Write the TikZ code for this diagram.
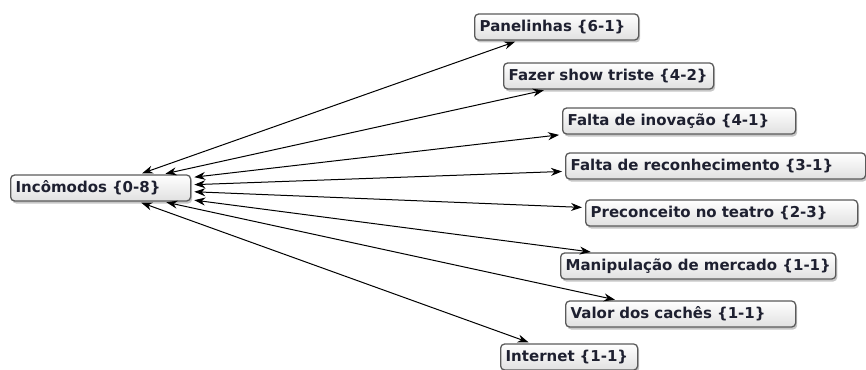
\documentclass[tikz,border=0pt]{standalone}
\usepackage{fontspec}
\setsansfont{DejaVu Sans}
\usetikzlibrary{arrows.meta,shadows}
\definecolor{boxline}{HTML}{5A5A5A}
\definecolor{boxtext}{HTML}{1E2030}
\tikzset{
  topic/.style={draw=boxline, line width=1.3pt, rounded corners=4pt,
    top color=white, bottom color=black!12, text=boxtext,
    font=\sffamily\bfseries\fontsize{15}{17}\selectfont,
    minimum height=26pt, inner xsep=5pt, anchor=west, align=left,
    drop shadow={shadow xshift=1.5pt, shadow yshift=-2.5pt, opacity=0.45}},
  link/.style={<->, >={Stealth[length=11pt,width=8pt]}, line width=1pt,
    shorten <=3pt, shorten >=3pt}
}
\begin{document}
\begin{tikzpicture}[x=1pt,y=-1pt]
  \useasboundingbox (0,0) rectangle (866,369);
  % central topic
  \node[topic, text width=170pt] (inc) at (10,188) {Incômodos \{0-8\}};
  % related topics
  \node[topic, text width=154pt] (pan) at (474,27) {Panelinhas \{6-1\}};
  \node[topic, text width=200pt] (faz) at (503,76) {Fazer show triste \{4-2\}};
  \node[topic, text width=223pt] (ino) at (562,121) {Falta de inovação \{4-1\}};
  \node[topic, text width=290pt] (rec) at (565,166) {Falta de reconhecimento \{3-1\}};
  \node[topic, text width=262pt] (pre) at (585,213) {Preconceito no teatro \{2-3\}};
  \node[topic] (man) at (560,266) {Manipulação de mercado \{1-1\}};
  \node[topic, text width=220pt] (val) at (565,314) {Valor dos cachês \{1-1\}};
  \node[topic, text width=127pt] (int) at (500,357) {Internet \{1-1\}};
  % connectors
  \foreach \t in {pan,faz,ino,rec,pre,man,val,int}
    \draw[link] (inc) -- (\t);
\end{tikzpicture}
\end{document}
